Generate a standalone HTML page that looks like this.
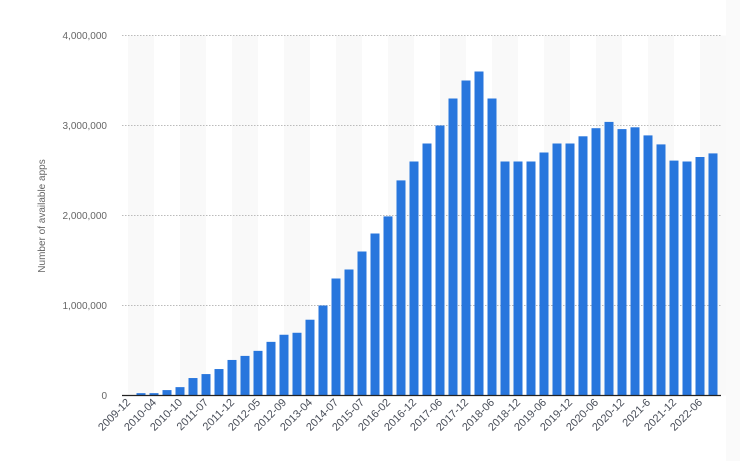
<!DOCTYPE html>
<html><head><meta charset="utf-8">
<style>
html,body{margin:0;padding:0;background:#fff;}
body{width:740px;height:461px;overflow:hidden;font-family:"Liberation Sans",Arial,sans-serif;}
</style></head>
<body>
<svg id="chart" width="740" height="461" xmlns="http://www.w3.org/2000/svg">
<rect x="726" y="0" width="14" height="461" fill="#fafafa"/>
<g id="bands"></g>
<g id="grid"></g>
<g id="bars"></g>
<g id="xlabels"></g>
<g id="ylabels"></g>
<text transform="translate(45,216) rotate(-90)" text-anchor="middle" font-size="10" fill="#666">Number of available apps</text>
<line x1="122" y1="395.5" x2="721" y2="395.5" stroke="#222" stroke-width="1.3"/>
</svg>
<script>
const categories = ["2009-12","2010-01","2010-04","2010-07","2010-10","2011-03","2011-07","2011-10","2011-12","2012-03","2012-05","2012-07","2012-09","2013-01","2013-04","2014-01","2014-07","2015-01","2015-07","2015-10","2016-02","2016-06","2016-12","2017-03","2017-06","2017-09","2017-12","2018-03","2018-06","2018-09","2018-12","2019-03","2019-06","2019-09","2019-12","2020-03","2020-06","2020-09","2020-12","2021-3","2021-6","2021-9","2021-12","2022-03","2022-06","2022-09"];
const values = [0,26000,26000,60000,93000,194000,238000,294000,395000,440000,496000,596000,675000,697000,842000,1000000,1300000,1400000,1600000,1800000,1990000,2390000,2600000,2800000,3000000,3300000,3500000,3600000,3300000,2600000,2600000,2600000,2700000,2800000,2800000,2880000,2970000,3040000,2960000,2980000,2890000,2790000,2610000,2600000,2650000,2690000];
const tickLabels = ["2009-12","2010-04","2010-10","2011-07","2011-12","2012-05","2012-09","2013-04","2014-07","2015-07","2016-02","2016-12","2017-06","2017-12","2018-06","2018-12","2019-06","2019-12","2020-06","2020-12","2021-6","2021-12","2022-06"];
const yTicks = [0,1000000,2000000,3000000,4000000];
const yTickText = ["0","1,000,000","2,000,000","3,000,000","4,000,000"];

const NS="http://www.w3.org/2000/svg";
const x0=128, step=13, barW=9;
const yZero=395.5, yTop=35.5, yMax=4000000;
function xs(i){return x0+step*i;}
function ys(v){return yZero-(v/yMax)*(yZero-yTop);}
function mk(tag,attrs,parent){const e=document.createElementNS(NS,tag);for(const k in attrs)e.setAttribute(k,attrs[k]);document.getElementById(parent).appendChild(e);return e;}

for(let i=0;i<categories.length;i+=4){
  const b=mk('rect',{x:xs(i),y:yTop,width:step*2,height:yZero-yTop,fill:'#f9f9f9'},'bands');
  
  
}
yTicks.forEach((t,k)=>{
  if(t>0){
    const g=mk('line',{x1:122,x2:721,y1:ys(t),y2:ys(t),stroke:'#bbb','stroke-dasharray':'1.5,1.5','stroke-width':1},'grid');
    
    
  }
  const l=mk('text',{x:107,y:ys(t)+3.5,'text-anchor':'end','font-size':10,fill:'#666'},'ylabels');
  l.textContent=yTickText[k];
  
  
});
values.forEach((v,i)=>{
  const r=mk('rect',{x:xs(i)-barW/2,y:ys(v),width:barW,height:yZero-ys(v),fill:'#2876dd'},'bars');
  
  
});
tickLabels.forEach((t,k)=>{
  const cx=xs(k*2)+3, cy=403;
  const l=mk('text',{x:cx,y:cy,'text-anchor':'end','font-size':11,fill:'#4a4f5a',transform:`rotate(-45 ${cx} ${cy})`},'xlabels');
  l.textContent=t;
  
  
});
</script>
</body></html>
